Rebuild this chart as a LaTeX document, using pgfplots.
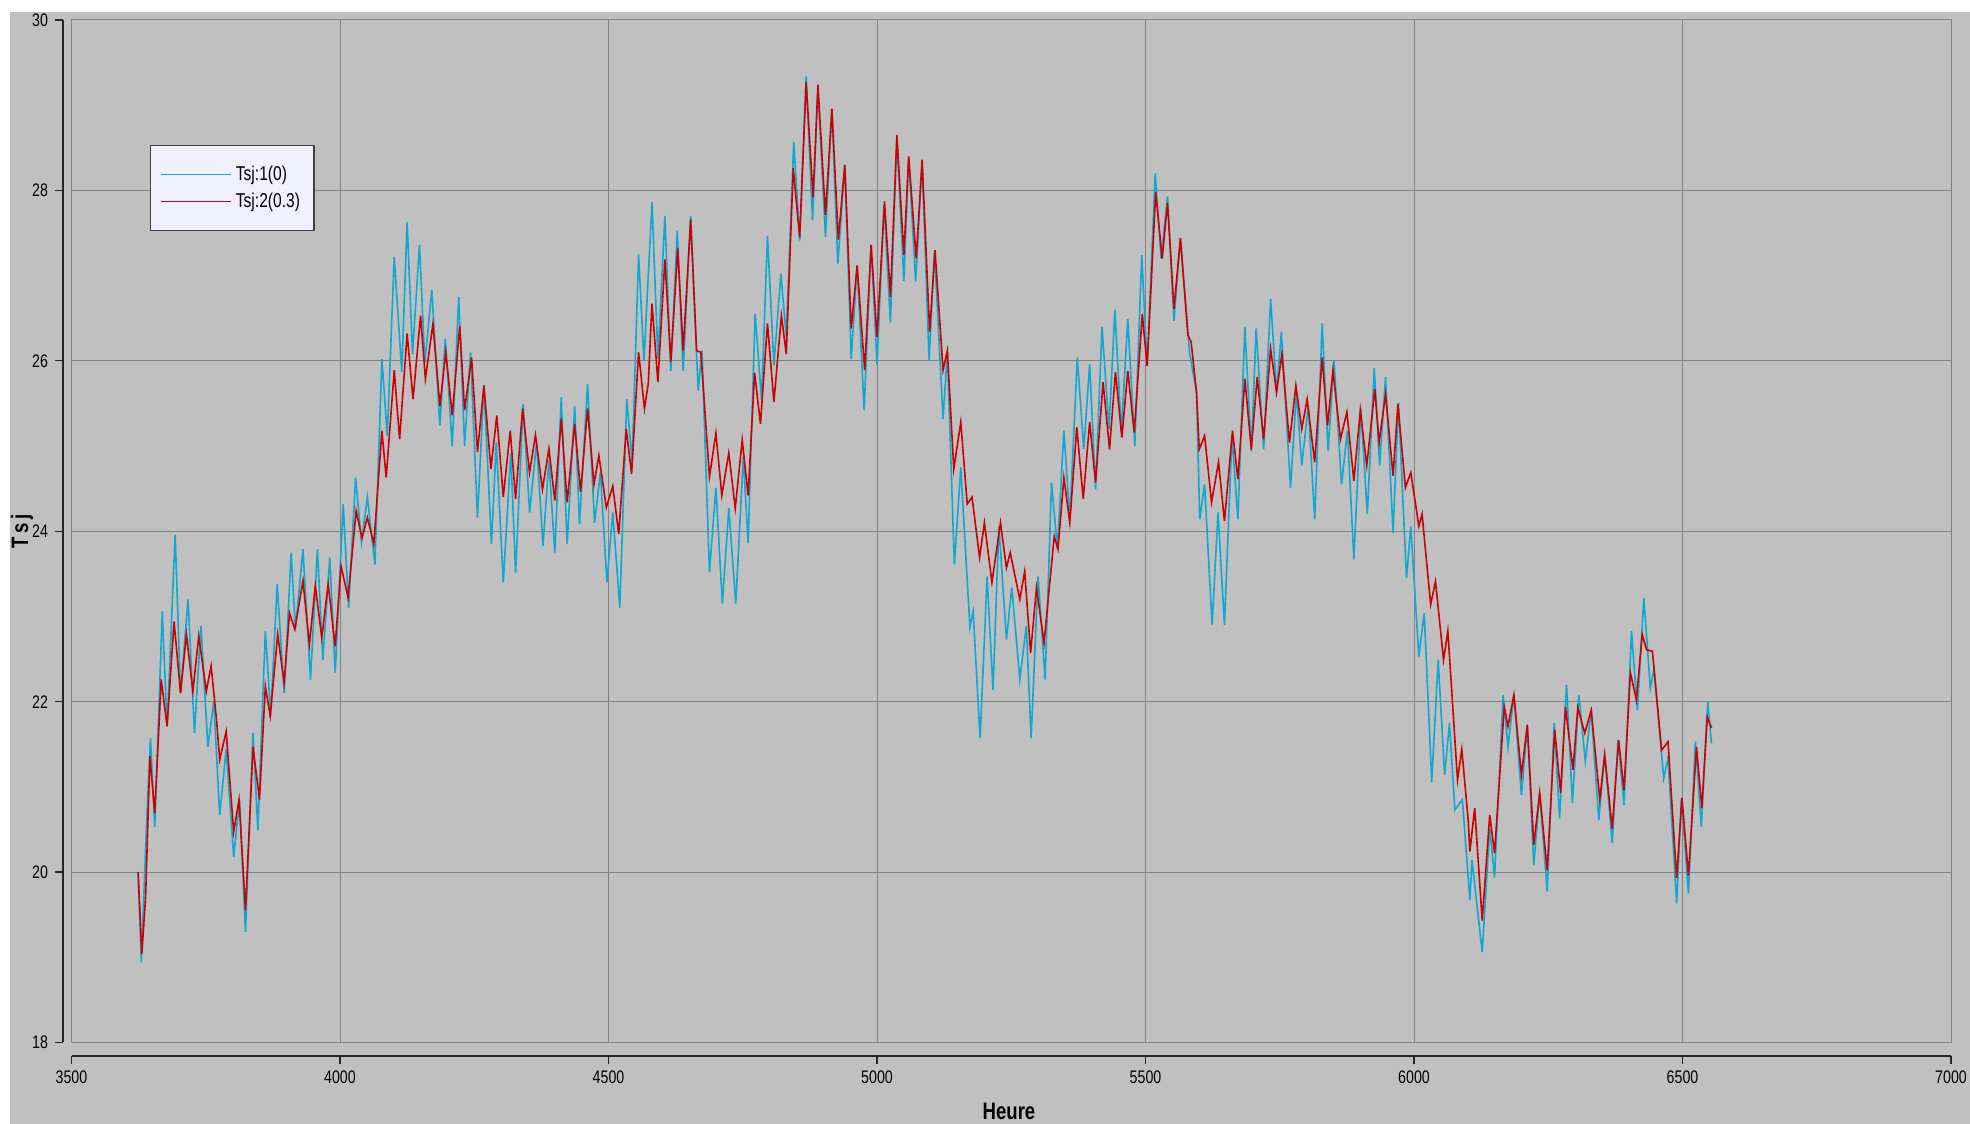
\documentclass[border=0pt]{standalone}
\usepackage{fontspec}
\setmainfont{Liberation Sans}[FakeStretch=0.78]
\usepackage{pgfplots}
\pgfplotsset{compat=1.18}
\definecolor{bgcol}{RGB}{192,192,192}
\definecolor{gridcol}{RGB}{130,130,130}
\definecolor{legbg}{RGB}{240,240,255}
\definecolor{cyanl}{RGB}{16,168,208}
\definecolor{redl}{RGB}{204,0,0}
\begin{document}
\begin{tikzpicture}
\useasboundingbox (0,0) rectangle (985pt,562pt);
\fill[white] (0,0) rectangle (985pt,562pt);
\fill[bgcol] (5pt,0) rectangle (985pt,556pt);
\begin{axis}[
  at={(35.75pt,40.75pt)}, anchor=south west,
  scale only axis, width=939.75pt, height=511.25pt,
  xmin=3500, xmax=7000, ymin=18, ymax=30,
  xtick={3500,4000,...,7000}, ytick={18,20,...,30},
  axis lines*=left,
  axis x line shift=6.75pt,
  axis y line shift=4.25pt,
  axis line style={black!85, line width=0.75pt},
  tick align=outside, major tick length=4pt,
  tick style={black!85, line width=0.6pt},
  grid=major,
  major grid style={gridcol, line width=0.5pt},
  axis background/.style={fill=bgcol, draw=gridcol, line width=0.5pt},
  /pgf/number format/assume math mode=true,
  /pgf/number format/1000 sep={},
  tick label style={font=\fontsize{9.1}{10}\selectfont, black},
  xlabel={\textbf{Heure}}, ylabel={\textbf{T\,s\,j}},
  xlabel style={at={(axis description cs:0.4988,-0.067)}, anchor=center, font=\fontsize{11.9}{13}\selectfont},
  ylabel style={at={(axis description cs:-0.0263,0.5)}, anchor=center, font=\fontsize{11.9}{13}\selectfont},
  legend style={at={(axis description cs:0.0418,0.8778)}, anchor=north west, fill=legbg, draw=black!75, line width=0.6pt,
    font=\fontsize{10}{12}\selectfont, inner xsep=5pt, inner ysep=8pt, row sep=1pt, cells={anchor=west}},
  legend image code/.code={\draw[#1, line width=0.6pt] (0pt,0pt) -- (35pt,0pt);},
  legend cell align=left,
]
\addplot[cyanl, line width=0.8pt] table {
3624 20.00
3630 18.94
3639 20.45
3647 21.57
3655 20.53
3664 22.14
3669 23.06
3678 21.71
3693 23.96
3703 22.10
3717 23.20
3729 21.63
3741 22.89
3754 21.47
3765 22.00
3776 20.67
3788 21.44
3802 20.18
3813 20.85
3824 19.30
3838 21.63
3847 20.49
3861 22.83
3871 21.83
3883 23.38
3896 22.10
3909 23.75
3917 22.85
3931 23.79
3945 22.26
3958 23.79
3968 22.49
3981 23.69
3991 22.34
4006 24.32
4016 23.10
4029 24.63
4040 23.87
4051 24.40
4065 23.61
4078 26.02
4088 25.12
4101 27.22
4115 25.87
4125 27.63
4135 26.08
4148 27.36
4158 25.98
4171 26.83
4186 25.24
4196 26.26
4209 25.00
4221 26.75
4232 25.00
4243 26.10
4256 24.16
4268 25.71
4282 23.85
4291 25.04
4304 23.40
4318 24.91
4327 23.51
4341 25.49
4353 24.22
4366 25.04
4378 23.83
4389 24.83
4400 23.75
4412 25.57
4423 23.85
4437 25.47
4446 24.08
4461 25.73
4474 24.10
4485 24.69
4497 23.40
4508 24.22
4521 23.10
4534 25.55
4544 24.81
4556 27.25
4566 26.00
4581 27.86
4592 26.03
4605 27.70
4616 25.88
4628 27.53
4639 25.88
4653 27.70
4667 25.65
4674 26.12
4688 23.52
4700 24.51
4712 23.15
4724 24.27
4737 23.15
4751 24.87
4760 23.86
4773 26.55
4785 25.54
4796 27.47
4808 25.95
4821 27.02
4831 26.29
4845 28.57
4856 27.41
4868 29.34
4880 27.65
4890 29.20
4904 27.45
4916 28.95
4927 27.14
4940 28.30
4952 26.02
4963 27.12
4976 25.42
4989 27.36
5000 25.95
5013 27.83
5025 26.45
5037 28.61
5050 26.94
5059 28.38
5072 26.93
5084 28.34
5097 26.00
5107 27.28
5123 25.32
5131 26.10
5144 23.61
5156 24.75
5173 22.87
5179 23.06
5192 21.57
5205 23.47
5216 22.14
5227 24.06
5241 22.73
5251 23.34
5266 22.26
5278 22.89
5287 21.57
5300 23.47
5313 22.26
5325 24.57
5336 23.79
5348 25.18
5359 24.14
5373 26.04
5385 24.96
5396 25.96
5407 24.49
5419 26.40
5432 25.20
5443 26.60
5455 25.16
5467 26.49
5480 25.00
5493 27.24
5503 25.94
5518 28.20
5529 27.20
5541 27.93
5553 26.47
5565 27.44
5582 26.10
5595 25.63
5601 24.14
5610 24.55
5624 22.90
5635 24.22
5647 22.90
5661 25.12
5672 24.14
5685 26.40
5697 24.94
5706 26.38
5720 24.96
5733 26.73
5744 25.63
5753 26.34
5770 24.51
5781 25.63
5791 24.77
5803 25.47
5815 24.14
5829 26.44
5840 24.94
5851 26.00
5865 24.55
5876 25.18
5888 23.67
5901 25.44
5913 24.20
5926 25.91
5936 24.77
5947 25.81
5961 23.98
5971 25.51
5986 23.45
5994 24.06
6009 22.53
6019 23.04
6033 21.06
6045 22.49
6057 21.14
6066 21.75
6076 20.73
6090 20.85
6104 19.67
6108 20.14
6127 19.06
6141 20.51
6150 19.94
6166 22.08
6175 21.47
6186 22.08
6200 20.90
6211 21.71
6223 20.08
6234 20.93
6248 19.77
6261 21.75
6271 20.63
6284 22.20
6295 20.81
6307 22.08
6319 21.30
6330 21.90
6344 20.61
6355 21.38
6369 20.34
6380 21.55
6391 20.79
6405 22.83
6416 21.90
6428 23.22
6440 22.16
6447 22.38
6465 21.10
6473 21.34
6489 19.63
6498 20.87
6511 19.75
6524 21.53
6535 20.53
6547 22.00
6554 21.51
};
\addlegendentry{Tsj:1(0)}
\addplot[redl, line width=0.8pt] table {
3624 20.00
3631 19.04
3638 19.71
3646 21.36
3655 20.69
3667 22.26
3678 21.71
3691 22.94
3703 22.10
3714 22.79
3726 22.12
3737 22.77
3751 22.12
3760 22.42
3770 21.79
3776 21.32
3788 21.65
3802 20.47
3812 20.85
3824 19.55
3838 21.47
3850 20.85
3861 22.18
3870 21.83
3884 22.79
3896 22.22
3906 23.04
3916 22.85
3931 23.42
3943 22.67
3954 23.36
3966 22.75
3978 23.38
3991 22.65
4002 23.59
4015 23.22
4030 24.24
4041 23.92
4051 24.16
4063 23.85
4078 25.18
4086 24.63
4101 25.89
4111 25.08
4125 26.32
4136 25.55
4150 26.53
4159 25.79
4173 26.43
4186 25.47
4197 26.10
4209 25.36
4223 26.41
4232 25.42
4245 26.04
4256 24.93
4268 25.71
4281 24.73
4292 25.36
4304 24.40
4317 25.18
4327 24.38
4340 25.44
4353 24.69
4364 25.13
4377 24.49
4389 24.97
4400 24.36
4412 25.32
4423 24.34
4437 25.26
4448 24.46
4461 25.44
4473 24.55
4482 24.89
4496 24.28
4508 24.53
4519 23.97
4533 25.20
4543 24.67
4556 26.10
4567 25.44
4574 25.73
4581 26.67
4592 25.75
4605 27.19
4616 25.99
4629 27.32
4639 26.12
4653 27.66
4664 26.12
4672 26.10
4688 24.64
4700 25.15
4711 24.42
4724 24.92
4736 24.27
4749 25.07
4760 24.42
4772 25.86
4783 25.26
4796 26.44
4808 25.52
4822 26.53
4831 26.08
4844 28.26
4856 27.45
4868 29.27
4881 27.92
4890 29.24
4904 27.71
4916 28.96
4928 27.42
4940 28.30
4952 26.38
4963 27.12
4977 25.89
4989 27.36
5000 26.28
5014 27.87
5025 26.75
5037 28.65
5050 27.24
5059 28.40
5073 27.20
5084 28.36
5098 26.34
5108 27.30
5123 25.89
5131 26.12
5143 24.73
5156 25.28
5168 24.32
5177 24.40
5191 23.69
5200 24.10
5214 23.40
5230 24.10
5241 23.57
5248 23.75
5266 23.20
5275 23.53
5286 22.57
5297 23.34
5311 22.69
5330 23.94
5337 23.79
5348 24.63
5359 24.10
5372 25.22
5384 24.38
5396 25.28
5407 24.57
5421 25.75
5433 24.96
5444 25.87
5456 25.10
5467 25.88
5479 25.16
5494 26.55
5503 25.94
5519 27.98
5531 27.20
5541 27.85
5553 26.61
5565 27.44
5579 26.30
5585 26.22
5595 25.63
5600 24.96
5610 25.12
5623 24.34
5636 24.81
5647 24.12
5662 25.18
5672 24.61
5685 25.79
5697 24.96
5708 25.81
5720 25.08
5733 26.14
5744 25.63
5754 26.08
5768 25.04
5780 25.71
5791 25.20
5801 25.55
5815 24.81
5829 26.04
5839 25.24
5849 25.89
5863 25.08
5875 25.40
5888 24.59
5900 25.42
5912 24.77
5927 25.67
5935 25.04
5947 25.61
5961 24.65
5970 25.49
5984 24.51
5994 24.69
6009 24.06
6015 24.20
6031 23.14
6040 23.41
6055 22.49
6063 22.83
6081 21.08
6089 21.44
6101 20.60
6104 20.24
6113 20.75
6127 19.43
6141 20.67
6150 20.22
6168 21.94
6175 21.71
6186 22.08
6200 21.14
6211 21.73
6223 20.32
6234 20.93
6248 20.02
6262 21.67
6273 20.93
6282 21.94
6296 21.20
6305 21.93
6318 21.63
6330 21.90
6346 20.85
6355 21.38
6369 20.51
6381 21.55
6391 20.96
6403 22.34
6414 22.02
6425 22.79
6433 22.61
6444 22.59
6461 21.43
6473 21.53
6489 19.93
6499 20.87
6511 19.96
6526 21.47
6536 20.75
6546 21.82
6554 21.69
};
\addlegendentry{Tsj:2(0.3)}
\end{axis}
\end{tikzpicture}
\end{document}
